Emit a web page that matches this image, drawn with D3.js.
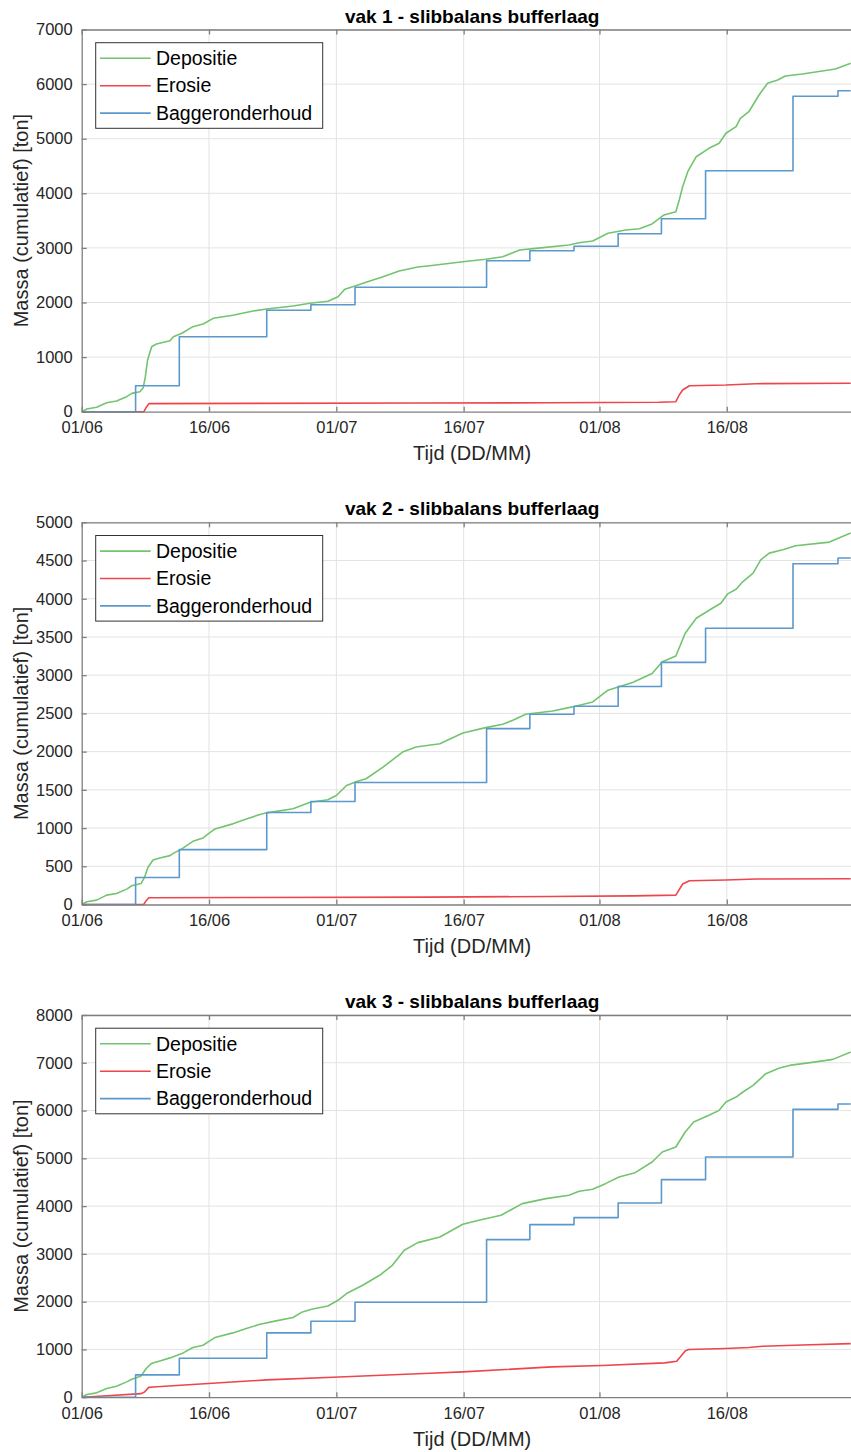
<!DOCTYPE html>
<html>
<head>
<meta charset="utf-8">
<script src="https://cdn.jsdelivr.net/npm/d3@7"></script>
<style>
  html, body { margin: 0; padding: 0; background: #fff; }
  svg { display: block; font-family: "Liberation Sans", Arial, Helvetica, sans-serif; }
</style>
</head>
<body>
<svg id="chart" width="851" height="1452"></svg>
<script>
// Time axis: days since 01/06, tick positions and their labels
const tickDays = [0, 15, 30, 45, 61, 76];
const tickLabels = ["01/06", "16/06", "01/07", "16/07", "01/08", "16/08"];

// Dredging (maintenance) moments, shared by all three sections (days since 01/06)
const dredgeDays = [6.35, 11.5, 21.8, 27, 32.2, 47.7, 52.8, 58, 63.2, 68.3, 73.5, 83.8, 89.1];

// Cumulative dredged mass after each dredging moment [ton]
const bagger1 = [476, 1374, 1857, 1960, 2278, 2766, 2949, 3029, 3260, 3535, 4414, 5777, 5879];
const bagger2 = [354, 718, 1203, 1347, 1597, 2301, 2489, 2594, 2852, 3167, 3613, 4457, 4532];
const bagger3 = [467, 816, 1346, 1590, 1987, 3299, 3612, 3759, 4065, 4554, 5027, 6025, 6136];

// Cumulative deposition [day, ton]
const depositie1 = [[0,0],[0.6,49],[1.76,80],[2.94,165],[4.1,196],[5.3,275],[5.9,336],[6.86,366],[7.25,440],[7.5,641],[7.76,947],[8.24,1190],[8.8,1240],[10.4,1300],[10.8,1374],[11.8,1436],[13.1,1557],[14.3,1606],[15.5,1710],[17.8,1765],[20.2,1844],[21.8,1881],[24.9,1936],[26.9,1985],[29,2022],[30.2,2106],[31,2242],[32.2,2302],[33.5,2370],[35.5,2473],[37.4,2577],[39.6,2650],[41,2674],[44.9,2747],[47.6,2791],[49.6,2839],[51.6,2961],[53.5,2992],[57.4,3053],[58.6,3095],[60.2,3126],[62,3267],[64.1,3328],[65.7,3352],[67.2,3438],[68.6,3603],[70,3663],[70.4,3877],[70.8,4121],[71.4,4396],[72.4,4670],[73.9,4824],[75.1,4916],[75.9,5099],[77.1,5220],[77.6,5373],[78.6,5494],[79.8,5800],[80.8,6015],[82,6075],[82.9,6148],[84.9,6185],[88.8,6277],[90.6,6381]];
const depositie2 = [[0,0],[0.6,35],[1.76,57],[2.94,123],[4.1,144],[5.3,201],[5.9,245],[7.0,276],[7.4,354],[7.8,485],[8.4,582],[9.2,609],[10.4,639],[11,682],[11.8,727],[13.1,827],[14.3,871],[14.9,924],[15.7,989],[17.8,1055],[19.4,1120],[21,1177],[21.8,1199],[24.9,1252],[26.9,1338],[29,1370],[30,1426],[31.2,1557],[32.4,1610],[33.5,1645],[35.5,1797],[37.8,1994],[39.4,2060],[42.2,2104],[44.9,2244],[47.6,2314],[49.6,2358],[50.8,2410],[52.3,2489],[55.5,2532],[57.8,2585],[60.2,2650],[62,2804],[64.9,2905],[67.2,3023],[68.4,3175],[70,3250],[71.1,3548],[72.4,3745],[74.3,3876],[75.3,3941],[76.1,4063],[77.1,4125],[77.9,4225],[79.1,4335],[80,4509],[81,4597],[82.6,4640],[84.1,4693],[88.1,4741],[89.2,4794],[90.6,4860]];
const depositie3 = [[0,0],[0.6,56],[1.76,91],[2.94,181],[4.1,230],[5.3,321],[5.9,376],[7.0,446],[7.6,600],[8.2,704],[9.2,760],[10.4,823],[11.8,913],[13.1,1039],[14.3,1088],[14.9,1157],[15.7,1248],[17.8,1346],[19.4,1436],[21,1527],[22.9,1597],[24.9,1667],[26,1785],[27.2,1847],[29,1910],[30.2,2029],[31.2,2169],[33.1,2343],[35.1,2552],[36.6,2761],[38,3075],[39.6,3236],[42.2,3354],[44.9,3619],[46.8,3703],[49.4,3807],[51.9,4052],[54.7,4157],[57.4,4226],[58.6,4310],[60.2,4352],[61.7,4470],[63.3,4610],[65.2,4700],[67.2,4923],[68.4,5132],[70,5237],[71.1,5551],[72.1,5760],[73.9,5900],[75.1,6004],[75.9,6178],[77.1,6283],[77.9,6388],[79.1,6527],[80.6,6772],[82.2,6889],[83.4,6945],[86.9,7029],[88.5,7071],[90.6,7224]];

// Cumulative erosion [day, ton]
const erosie1 = [[0,0],[7.33,0],[7.65,92],[7.92,147],[20,153],[40,158],[55,163],[68,172],[70,183],[70.4,306],[70.8,397],[71.6,476],[75.9,489],[79.4,513],[90.6,520]];
const erosie2 = [[0,0],[7.3,0],[7.6,50],[7.9,88],[20,92],[41,97],[55,105],[65,113],[70,123],[70.8,268],[71.6,311],[75.9,320],[79.5,333],[90.6,337]];
const erosie3 = [[0,0],[3,30],[7.0,75],[7.4,110],[7.9,205],[8.4,215],[15.4,293],[21.8,362],[29.6,418],[41,502],[44.9,530],[55.4,634],[61.3,662],[68.7,718],[70.1,753],[71.1,969],[71.5,997],[75.9,1018],[78.6,1039],[80.2,1067],[84.9,1094],[90.6,1122]];

// Y-axis extents and tick step per section
const yMax = [7000, 5000, 8000];
const yStep = [1000, 500, 1000];
const titles = ["vak 1 - slibbalans bufferlaag", "vak 2 - slibbalans bufferlaag", "vak 3 - slibbalans bufferlaag"];
const seriesNames = ["Depositie", "Erosie", "Baggeronderhoud"];
const seriesColors = ["#72c46e", "#ee454b", "#5b98cc"];

const panels = [
  { dep: depositie1, ero: erosie1, bag: bagger1 },
  { dep: depositie2, ero: erosie2, bag: bagger2 },
  { dep: depositie3, ero: erosie3, bag: bagger3 }
];

const svg = d3.select("#chart");
const left = 81.7, right = 862.6, plotH = 382.2;
const tops = [29.5, 522.3, 1015];
const axisColor = "#7f7f7f", textColor = "#262626", gridColor = "#e3e3e3";

const x = d3.scaleLinear().domain([0, 92]).range([left, right]);

panels.forEach((p, i) => {
  const top = tops[i], bottom = top + plotH;
  const y = d3.scaleLinear().domain([0, yMax[i]]).range([bottom, top]);
  const yTicks = d3.range(0, yMax[i] + 1, yStep[i]);
  const g = svg.append("g");

  const clipId = "clip" + i;
  g.append("clipPath").attr("id", clipId)
    .append("rect").attr("x", left).attr("y", top - 2).attr("width", right - left).attr("height", plotH + 4);

  // grid
  g.append("g").selectAll("line.vg").data(tickDays.slice(1)).join("line")
    .attr("x1", d => x(d)).attr("x2", d => x(d)).attr("y1", top).attr("y2", bottom)
    .attr("stroke", gridColor).attr("stroke-width", 1);
  g.append("g").selectAll("line.hg").data(yTicks.slice(1)).join("line")
    .attr("x1", left).attr("x2", right).attr("y1", d => y(d)).attr("y2", d => y(d))
    .attr("stroke", gridColor).attr("stroke-width", 1);

  // data lines
  const line = d3.line().x(d => x(d[0])).y(d => y(d[1]));
  const stepData = [[0, 0]].concat(dredgeDays.map((d, k) => [d, p.bag[k]]), [[90.6, p.bag[p.bag.length - 1]]]);
  const lines = g.append("g").attr("clip-path", `url(#${clipId})`).attr("fill", "none")
    .attr("stroke-width", 1.6).attr("stroke-linejoin", "round");
  lines.append("path").datum(p.dep).attr("d", line).attr("stroke", seriesColors[0]);
  lines.append("path").datum(p.ero).attr("d", line).attr("stroke", seriesColors[1]);
  lines.append("path").datum(stepData).attr("d", line.curve(d3.curveStepAfter)).attr("stroke", seriesColors[2]);

  // axes
  const xAxisB = d3.axisBottom(x).tickValues(tickDays).tickFormat((d, k) => tickLabels[k]).tickSizeInner(-5).tickSizeOuter(0).tickPadding(10);
  const xAxisT = d3.axisTop(x).tickValues(tickDays).tickFormat("").tickSizeInner(-5).tickSizeOuter(0);
  const yAxis = d3.axisLeft(y).tickValues(yTicks).tickFormat(d3.format("d")).tickSizeInner(-5).tickSizeOuter(0).tickPadding(9);

  const styleAxis = sel => {
    sel.select(".domain").attr("stroke", axisColor).attr("stroke-width", 1.3);
    sel.selectAll(".tick line").attr("stroke", axisColor).attr("stroke-width", 1.3);
    sel.selectAll(".tick text").attr("fill", textColor).style("font-size", "16.5px")
      .style("font-family", '"Liberation Sans", Arial, sans-serif');
  };
  g.append("g").attr("transform", `translate(0,${bottom})`).call(xAxisB).call(styleAxis)
    .selectAll(".tick text").attr("dy", "0.71em");
  g.append("g").attr("transform", `translate(0,${top})`).call(xAxisT).call(styleAxis);
  g.append("g").attr("transform", `translate(${left},0)`).call(yAxis).call(styleAxis);

  // title and axis labels
  const midX = (left + right) / 2;
  g.append("text").attr("x", midX).attr("y", top - 7).attr("text-anchor", "middle")
    .attr("fill", "#000").style("font-size", "19px").style("font-weight", "bold").text(titles[i]);
  g.append("text").attr("x", midX).attr("y", bottom + 48.5).attr("text-anchor", "middle")
    .attr("fill", textColor).style("font-size", "20px").text("Tijd (DD/MM)");
  g.append("text").attr("transform", `translate(28.3,${(top + bottom) / 2}) rotate(-90)`)
    .attr("text-anchor", "middle").attr("fill", textColor).style("font-size", "20px")
    .text("Massa (cumulatief) [ton]");

  // legend
  const lg = g.append("g").attr("transform", `translate(95.7,${top + 13.2})`);
  lg.append("rect").attr("width", 227).attr("height", 85.6).attr("fill", "#fff")
    .attr("stroke", "#333").attr("stroke-width", 1);
  seriesNames.forEach((name, k) => {
    const ry = 15.6 + k * 27.4;
    lg.append("line").attr("x1", 4.3).attr("x2", 55).attr("y1", ry).attr("y2", ry)
      .attr("stroke", seriesColors[k]).attr("stroke-width", 1.6);
    lg.append("text").attr("x", 60.3).attr("y", ry + 6.8).attr("fill", "#000")
      .style("font-size", "19.5px").text(name);
  });
});
</script>
</body>
</html>
